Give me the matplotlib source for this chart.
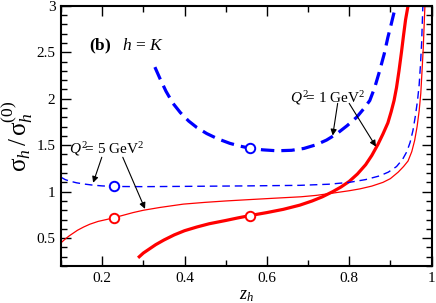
import matplotlib
matplotlib.use("Agg")
import matplotlib.pyplot as plt
from matplotlib.ticker import MultipleLocator

plt.rcParams['font.family'] = ['Liberation Serif', 'DejaVu Serif']
plt.rcParams['mathtext.fontset'] = 'custom'
plt.rcParams['mathtext.rm'] = 'Liberation Serif'
plt.rcParams['mathtext.it'] = 'Liberation Serif:italic'
plt.rcParams['mathtext.bf'] = 'Liberation Serif:bold'

# Q^2 = 1 GeV^2, blue dashed (thick)
z_b1 = [0.328, 0.34, 0.355, 0.372, 0.39, 0.41, 0.43, 0.454, 0.48, 0.51, 0.535, 0.559, 0.59,
        0.624, 0.66, 0.69, 0.72, 0.745, 0.769, 0.795, 0.818, 0.835, 0.85, 0.862, 0.874,
        0.885, 0.894, 0.902, 0.908, 0.913]
y_b1 = [2.34, 2.22, 2.08, 1.95, 1.85, 1.76, 1.69, 1.625, 1.57, 1.52, 1.49, 1.467, 1.45,
        1.44, 1.445, 1.465, 1.505, 1.555, 1.62, 1.71, 1.80, 1.89, 1.98, 2.12, 2.30,
        2.48, 2.66, 2.80, 2.91, 3.0]
# Q^2 = 1 GeV^2, red solid (thick)
z_r1 = [0.29, 0.30, 0.315, 0.33, 0.35, 0.375, 0.40, 0.43, 0.46, 0.50, 0.53, 0.559, 0.60,
        0.64, 0.68, 0.71, 0.735, 0.76, 0.78, 0.80, 0.82, 0.84, 0.855, 0.87, 0.882, 0.894,
        0.902, 0.909, 0.915, 0.921, 0.927, 0.932, 0.937, 0.943]
y_r1 = [0.30, 0.34, 0.385, 0.43, 0.48, 0.535, 0.58, 0.62, 0.655, 0.69, 0.718, 0.743, 0.775,
        0.81, 0.855, 0.90, 0.945, 1.00, 1.05, 1.11, 1.19, 1.29, 1.39, 1.51, 1.62, 1.74,
        1.86, 1.98, 2.12, 2.30, 2.50, 2.68, 2.85, 3.0]
# Q^2 = 5 GeV^2, blue dashed (thin)
z_b5 = [0.10, 0.11, 0.12, 0.138, 0.16, 0.178, 0.20, 0.229, 0.30, 0.40, 0.55, 0.68, 0.75,
        0.80, 0.84, 0.874, 0.895, 0.915, 0.93, 0.94, 0.948, 0.955, 0.961, 0.966, 0.970,
        0.973, 0.976, 0.979]
y_b5 = [1.155, 1.13, 1.115, 1.095, 1.08, 1.07, 1.062, 1.056, 1.054, 1.057, 1.062, 1.068, 1.08,
        1.10, 1.13, 1.17, 1.21, 1.27, 1.35, 1.43, 1.53, 1.66, 1.82, 1.98, 2.15,
        2.35, 2.60, 3.0]
# Q^2 = 5 GeV^2, red solid (thin)
z_r5 = [0.10, 0.11, 0.12, 0.13, 0.14, 0.155, 0.17, 0.19, 0.21, 0.229, 0.25, 0.275, 0.30,
        0.34, 0.397, 0.45, 0.50, 0.559, 0.62, 0.683, 0.72, 0.761, 0.80, 0.826, 0.855, 0.882,
        0.90, 0.919, 0.932, 0.943, 0.952, 0.959, 0.965, 0.970, 0.974, 0.977, 0.980, 0.982, 0.984]
y_r5 = [0.45, 0.49, 0.525, 0.555, 0.585, 0.62, 0.65, 0.68, 0.70, 0.72, 0.745, 0.775, 0.80,
        0.83, 0.866, 0.885, 0.90, 0.915, 0.93, 0.945, 0.96, 0.985, 1.01, 1.03, 1.06, 1.10,
        1.14, 1.21, 1.27, 1.33, 1.43, 1.55, 1.70, 1.87, 2.06, 2.30, 2.55, 2.78, 3.0]

# marker points
mk_z1, mk_b1, mk_r1 = 0.559, 1.467, 0.743
mk_z5, mk_b5, mk_r5 = 0.229, 1.056, 0.72

x_ticks = [0.2, 0.4, 0.6, 0.8, 1.0]
x_ticklabels = ['0.2', '0.4', '0.6', '0.8', '1']
y_ticks = [0.5, 1.0, 1.5, 2.0, 2.5, 3.0]
y_ticklabels = ['0.5', '1', '1.5', '2', '2.5', '3']

fig = plt.figure(figsize=(4.36, 3.03), dpi=100)
ax = fig.add_axes([0.140, 0.122, 0.8497, 0.859])

blue = '#0000ff'
red = '#ff0000'
ax.plot(z_b1, y_b1, color=blue, lw=2.3, dashes=(4.2, 2.2), solid_joinstyle='round')
ax.plot(z_r1, y_r1, color=red, lw=2.3, solid_joinstyle='round')
ax.plot(z_b5, y_b5, color=blue, lw=1.0, dashes=(5.5, 3.5))
ax.plot(z_r5, y_r5, color=red, lw=0.9)

mkw = dict(marker='o', ms=6.8, mfc='white', mew=1.4, ls='none', zorder=5)
ax.plot([mk_z1], [mk_b1], mec=blue, **mkw)
ax.plot([mk_z1], [mk_r1], mec=red, **mkw)
ax.plot([mk_z5], [mk_b5], mec=blue, **mkw)
ax.plot([mk_z5], [mk_r5], mec=red, **mkw)

ax.set_xlim(0.1, 1.0)
ax.set_ylim(0.2, 3.0)
ax.xaxis.set_minor_locator(MultipleLocator(0.1))
ax.yaxis.set_minor_locator(MultipleLocator(0.1))
ax.set_xticks(x_ticks)
ax.set_xticklabels(x_ticklabels)
ax.set_yticks(y_ticks)
ax.set_yticklabels(y_ticklabels)
ax.tick_params(which='both', direction='in', top=True, right=True, labelsize=11, width=1.0, pad=4)
ax.tick_params(which='major', length=7)
ax.tick_params(which='minor', length=4)
for s in ax.spines.values():
    s.set_linewidth(1.5)

ax.set_xlabel(r'$z_h$', fontsize=13, labelpad=2)
ax.set_ylabel(r'$\mathrm{\sigma}_h\,/\,\mathrm{\sigma}_h^{(0)}$', fontsize=18, labelpad=1)

ax.text(0.168, 2.52, r'$\mathbf{(b)}$', fontsize=12.5, ha='left', va='baseline')
ax.text(0.248, 2.52, r'$h$ = $K$', fontsize=12.5, ha='left', va='baseline')

ap = dict(arrowstyle='-|>', lw=0.8, color='black', mutation_scale=9, shrinkA=0, shrinkB=0)
ax.text(0.747, 1.96, r'$Q^2\!$= 1 GeV$^2$', fontsize=11, ha='center', va='baseline')
ax.annotate('', xy=(0.760, 1.604), xytext=(0.772, 1.95), arrowprops=ap)
ax.annotate('', xy=(0.865, 1.485), xytext=(0.80, 1.95), arrowprops=ap)

ax.text(0.212, 1.41, r'$Q^2\!$= 5 GeV$^2$', fontsize=11, ha='center', va='baseline')
ax.annotate('', xy=(0.178, 1.096), xytext=(0.199, 1.37), arrowprops=ap)
ax.annotate('', xy=(0.304, 0.815), xytext=(0.25, 1.37), arrowprops=ap)

fig.savefig('out.png', dpi=100)
